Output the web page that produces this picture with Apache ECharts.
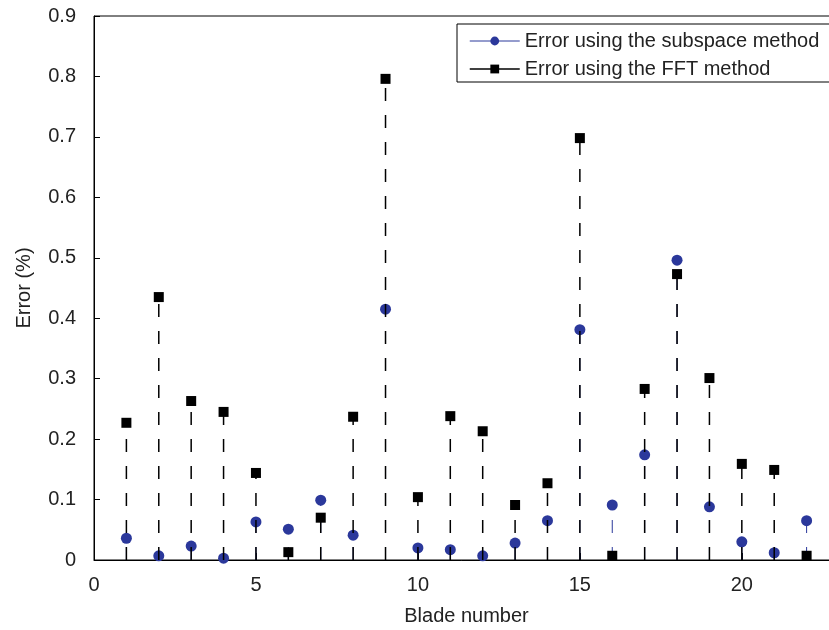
<!DOCTYPE html>
<html>
<head>
<meta charset="utf-8">
<script src="https://cdn.jsdelivr.net/npm/echarts@6/dist/echarts.min.js"></script>
<style>
  html, body { margin: 0; padding: 0; background: #fff; }
  #chart { width: 829px; height: 630px; }
</style>
</head>
<body>
<div id="chart"></div>
<script>
(function () {
    'use strict';

    var bladeNumbers = [1, 2, 3, 4, 5, 6, 7, 8, 9, 10, 11, 12, 13, 14, 15, 16, 17, 18, 19, 20, 21, 22];
    var subspaceError = [0.036, 0.007, 0.023, 0.003, 0.063, 0.051, 0.099, 0.041, 0.415, 0.020, 0.017,
        0.007, 0.028, 0.065, 0.381, 0.091, 0.174, 0.496, 0.088, 0.030, 0.012, 0.065];
    var fftError = [0.227, 0.435, 0.263, 0.245, 0.144, 0.013, 0.070, 0.237, 0.796, 0.104, 0.238,
        0.213, 0.091, 0.127, 0.698, 0.007, 0.283, 0.473, 0.301, 0.159, 0.149, 0.007];
    var xTicks = [0, 5, 10, 15, 20];
    var yTicks = [0, 0.1, 0.2, 0.3, 0.4, 0.5, 0.6, 0.7, 0.8, 0.9];

    var blue = '#2B389B';
    var black = '#000000';
    var font = 'Liberation Sans, Arial, sans-serif';

    function pairs(values) {
        var out = [];
        for (var i = 0; i < bladeNumbers.length; i++) {
            out.push([bladeNumbers[i], values[i]]);
        }
        return out;
    }

    function stemSeries(values, color, width, z) {
        return {
            type: 'custom',
            z: z,
            silent: true,
            data: pairs(values),
            renderItem: function (params, api) {
                var top = api.coord([api.value(0), api.value(1)]);
                var base = api.coord([api.value(0), 0]);
                return {
                    type: 'line',
                    shape: { x1: base[0], y1: base[1], x2: top[0], y2: top[1] },
                    style: { stroke: color, lineWidth: width, lineDash: [13, 14] }
                };
            }
        };
    }

    var chart = echarts.init(document.getElementById('chart'), null, { renderer: 'canvas' });

    chart.setOption({
        animation: false,
        backgroundColor: '#fff',
        grid: {
            left: 94,
            top: 16,
            width: 745,
            height: 544,
            outerBoundsMode: 'none',
            containLabel: false,
            show: true,
            borderColor: '#000',
            borderWidth: 1
        },
        legend: {
            left: 457,
            top: 24,
            orient: 'vertical',
            itemWidth: 50,
            itemHeight: 11,
            itemGap: 8,
            padding: [7, 40, 3, 12],
            borderColor: '#000',
            borderWidth: 1,
            backgroundColor: '#fff',
            textStyle: { fontFamily: font, fontSize: 20, color: '#222' },
            data: [
                { name: 'Error using the subspace method', lineStyle: { color: blue, width: 1, opacity: 1 } },
                { name: 'Error using the FFT method', lineStyle: { color: black, width: 1.5, opacity: 1 } }
            ]
        },
        xAxis: {
            type: 'value',
            min: 0,
            max: 23,
            interval: 5,
            name: 'Blade number',
            nameLocation: 'middle',
            nameGap: 46,
            nameTextStyle: { fontFamily: font, fontSize: 20, color: '#222' },
            axisLine: { lineStyle: { color: '#000', width: 1 } },
            axisTick: { inside: true, length: 7, lineStyle: { color: '#000' } },
            axisLabel: {
                fontFamily: font, fontSize: 20, color: '#222', margin: 15,
                formatter: function (v) { return xTicks.indexOf(v) >= 0 ? String(v) : ''; }
            },
            splitLine: { show: false }
        },
        yAxis: {
            type: 'value',
            min: 0,
            max: 0.9,
            interval: 0.1,
            name: 'Error (%)',
            nameLocation: 'middle',
            nameGap: 60,
            nameTextStyle: { fontFamily: font, fontSize: 20, color: '#222' },
            axisLine: { show: true, lineStyle: { color: '#000', width: 1 } },
            axisTick: { show: true, inside: true, length: 6, lineStyle: { color: '#000' } },
            axisLabel: {
                fontFamily: font, fontSize: 20, color: '#222', margin: 18,
                formatter: function (v) {
                    var r = Math.round(v * 10) / 10;
                    return yTicks.indexOf(r) === 0 ? '0' : r.toFixed(1);
                }
            },
            splitLine: { show: false }
        },
        series: [
            stemSeries(subspaceError, blue, 1, 2),
            {
                name: 'Error using the subspace method',
                type: 'line',
                z: 3,
                data: pairs(subspaceError),
                symbol: 'circle',
                symbolSize: 11,
                showSymbol: true,
                itemStyle: { color: blue },
                lineStyle: { opacity: 0 }
            },
            stemSeries(fftError, black, 1.5, 4),
            {
                name: 'Error using the FFT method',
                type: 'line',
                z: 5,
                data: pairs(fftError),
                symbol: 'rect',
                symbolSize: 10,
                showSymbol: true,
                itemStyle: { color: black },
                lineStyle: { opacity: 0 }
            }
        ]
    });
}());
</script>
</body>
</html>
